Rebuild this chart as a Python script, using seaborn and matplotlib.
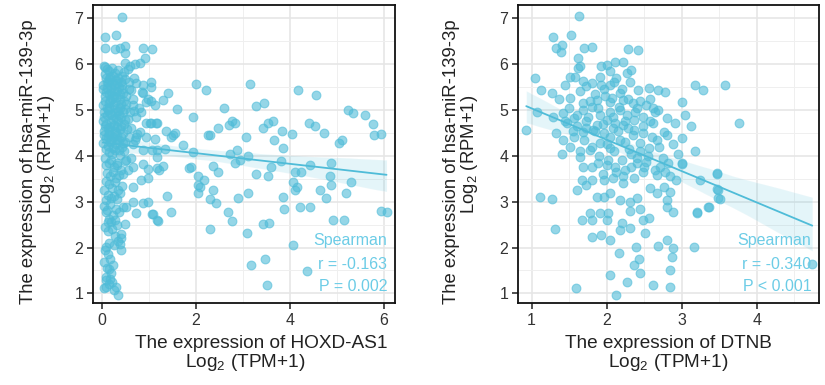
import matplotlib
matplotlib.use("Agg")
import matplotlib.pyplot as plt
import seaborn as sns
import numpy as np
import pandas as pd
from matplotlib.ticker import MultipleLocator

# ---------------- data: panel 1 (HOXD-AS1) ----------------
hoxd_x = [
    # sparse points
    1.99, 2.22, 3.14, 4.16, 4.56, 2.59, 3.27, 3.45, 5.23, 5.33, 5.60, 5.77, 5.78, 5.93,
    1.94, 2.47, 2.26, 2.30, 2.70, 2.76, 2.82, 3.43, 3.54, 3.63, 3.65, 3.82, 4.04, 4.40,
    4.52, 4.72, 5.03, 5.11, 3.07, 3.84, 2.72, 2.88, 3.11, 2.93, 2.82, 3.60, 3.80, 1.94,
    2.36, 2.47, 1.85, 1.90, 2.04, 2.16, 2.04, 2.08, 3.27, 3.54, 4.10, 4.24, 4.42, 4.88,
    4.84, 4.86, 4.06, 4.10, 4.15, 4.63, 5.29, 5.18, 4.77, 3.84, 3.11, 2.89, 2.36, 2.29,
    2.43, 2.04, 3.87, 4.21, 4.42, 5.94, 6.05, 2.68, 2.77, 3.43, 3.55, 4.91, 5.14, 2.29,
    3.09, 4.06, 3.16, 3.46, 4.35, 3.50,
    1.29, 1.41, 1.59, 1.16, 1.02, 1.36, 1.51, 1.46, 1.55, 1.72, 1.34, 1.16, 1.18, 1.30,
    1.22, 1.38, 1.46, 1.06, 1.20,
    # near-zero column, upper part
    0.43, 0.06, 0.29, 0.06, 0.27, 0.38, 0.48, 0.50, 0.87, 1.07, 0.91, 0.80, 0.70, 0.06,
    0.73, 0.87, 1.05, 1.05, 0.62, 0.87, 0.98, 1.05, 0.94, 1.12, 0.66, 0.69, 0.94, 1.04,
    1.15, 0.80, 0.73, 0.94, 1.12, 0.87, 1.07,
    0.09, 0.32, 0.52, 0.66, 0.87, 0.98, 1.16, 0.84, 0.98, 0.66, 0.66, 0.87, 0.98, 0.09,
    0.52, 0.73, 1.09, 1.16, 0.09, 0.13, 0.48, 0.40, 0.09, 0.41, 0.16, 0.09, 0.17, 0.09,
    0.30, 0.34,
    # dense column
    0.05, 0.10, 0.15, 0.22, 0.28, 0.35, 0.42, 0.08, 0.18, 0.30, 0.40, 0.48, 0.12, 0.25,
    0.55, 0.60, 0.50,
    0.03, 0.09, 0.14, 0.20, 0.26, 0.33, 0.38, 0.45, 0.52, 0.06, 0.16, 0.24, 0.31, 0.40,
    0.48, 0.11, 0.02, 0.21, 0.36, 0.58,
    0.04, 0.10, 0.17, 0.23, 0.29, 0.34, 0.41, 0.47, 0.07, 0.13, 0.19, 0.27, 0.32, 0.39,
    0.02, 0.44, 0.55, 0.15,
    0.05, 0.12, 0.18, 0.24, 0.30, 0.36, 0.43, 0.50, 0.58, 0.65, 0.08, 0.16, 0.22, 0.28,
    0.38, 0.46, 0.70, 0.03,
    0.06, 0.14, 0.20, 0.26, 0.33, 0.40, 0.48, 0.10, 0.18, 0.24, 0.30, 0.37, 0.45, 0.55,
    0.62,
    0.08, 0.15, 0.22, 0.28, 0.35, 0.42, 0.12, 0.19, 0.25, 0.32, 0.05, 0.38,
    0.04, 0.11, 0.17, 0.23, 0.29, 0.36, 0.44, 0.14, 0.20, 0.27, 0.33,
    0.06, 0.13, 0.21, 0.28, 0.35, 0.40, 0.16, 0.25, 0.38,
    0.07, 0.12, 0.18, 0.24, 0.10, 0.19, 0.05,
    0.08, 0.14, 0.22, 0.26, 0.04,
    # extra dense upper column
    0.03, 0.07, 0.11, 0.15, 0.19, 0.23, 0.27, 0.31, 0.35, 0.39, 0.43, 0.47,
    0.05, 0.09, 0.13, 0.17, 0.21, 0.25, 0.29, 0.33, 0.37, 0.41, 0.45, 0.49,
    0.04, 0.08, 0.12, 0.16, 0.20, 0.24, 0.28, 0.32, 0.36, 0.40, 0.44, 0.53,
    0.06, 0.10, 0.14, 0.18, 0.22, 0.26, 0.30, 0.34, 0.38, 0.42, 0.46, 0.51,
    0.60, 0.65, 0.72, 0.78, 0.62, 0.75, 0.82, 0.58, 0.68, 0.85,
]
hoxd_y = [
    5.56, 5.44, 5.56, 5.44, 5.33, 5.05, 5.09, 5.15, 5.00, 4.94, 4.88, 4.69, 4.45, 4.48,
    4.85, 4.61, 4.45, 4.45, 4.67, 4.75, 4.72, 4.60, 4.72, 4.76, 4.35, 4.54, 4.48, 4.72,
    4.64, 4.49, 4.27, 4.35, 4.42, 4.16, 4.05, 4.13, 4.00, 3.91, 3.84, 3.76, 3.89, 4.09,
    3.78, 3.65, 3.73, 3.76, 3.56, 3.47, 3.36, 3.31, 3.60, 3.55, 3.65, 3.65, 3.80, 3.84,
    3.55, 3.36, 3.44, 3.25, 3.31, 3.25, 3.44, 3.20, 3.07, 3.11, 3.20, 3.07, 3.25, 3.05,
    2.98, 3.18, 2.83, 2.89, 2.88, 2.80, 2.78, 2.78, 2.58, 2.51, 2.54, 2.60, 2.60, 2.40,
    2.32, 2.05, 1.62, 1.76, 1.49, 1.18,
    5.22, 5.37, 5.03, 4.71, 4.72, 4.55, 4.45, 4.40, 4.49, 4.23, 4.14, 4.12, 3.98, 3.78,
    3.69, 3.13, 2.78, 2.73, 2.58,
    7.03, 6.60, 6.64, 6.36, 6.34, 6.36, 6.40, 6.24, 6.36, 6.32, 6.13, 6.02, 6.00, 5.94,
    5.58, 5.55, 5.62, 5.50, 5.43, 5.36, 5.25, 5.20, 5.18, 5.11, 5.11, 4.97, 4.71, 4.71,
    4.71, 4.52, 4.42, 4.40, 4.37, 4.13, 4.13,
    3.80, 3.85, 3.91, 3.76, 3.83, 3.72, 3.73, 3.48, 3.52, 3.32, 3.00, 2.97, 2.99, 3.03,
    2.89, 2.76, 2.74, 2.60, 2.78, 2.56, 2.52, 2.30, 2.01, 1.94, 1.54, 1.36, 1.31, 1.14,
    1.14, 0.96,
    5.95, 5.90, 5.85, 5.92, 5.80, 5.88, 5.75, 5.70, 5.72, 5.65, 5.60, 5.68, 5.58, 5.55,
    5.90, 5.95, 6.02,
    5.45, 5.40, 5.35, 5.48, 5.30, 5.42, 5.25, 5.38, 5.30, 5.20, 5.15, 5.10, 5.05, 5.12,
    5.02, 5.05, 5.10, 5.25, 5.50, 5.45,
    4.95, 4.88, 4.92, 4.80, 4.95, 4.75, 4.85, 4.70, 4.65, 4.60, 4.72, 4.55, 4.62, 4.58,
    4.75, 4.95, 4.80, 4.52,
    4.45, 4.40, 4.30, 4.42, 4.25, 4.35, 4.20, 4.30, 4.40, 4.25, 4.15, 4.08, 4.05, 4.12,
    4.02, 4.10, 4.35, 4.28,
    3.95, 3.85, 3.90, 3.75, 3.80, 3.70, 3.88, 3.62, 3.55, 3.65, 3.52, 3.58, 3.60, 3.70,
    3.95,
    3.45, 3.38, 3.30, 3.42, 3.25, 3.35, 3.15, 3.08, 3.12, 3.05, 3.25, 3.18,
    2.90, 2.82, 2.95, 2.70, 2.85, 2.78, 2.88, 2.62, 2.55, 2.60, 2.50,
    2.45, 2.35, 2.40, 2.25, 2.15, 2.20, 2.10, 2.05, 2.08,
    1.95, 1.85, 1.75, 1.62, 1.55, 1.45, 1.68,
    1.30, 1.20, 1.25, 1.08, 1.12,
    5.55, 5.30, 5.62, 5.05, 5.40, 5.75, 5.18, 5.58, 4.98, 5.35, 5.55, 5.20,
    4.85, 4.70, 5.00, 4.62, 4.90, 4.68, 4.82, 4.45, 4.88, 4.65, 4.50, 4.78,
    4.55, 4.38, 4.22, 4.48, 4.32, 4.18, 4.50, 4.35, 4.12, 4.42, 4.28, 4.58,
    5.78, 5.48, 5.68, 5.22, 5.62, 5.42, 5.28, 5.70, 5.05, 5.45, 5.82, 5.12,
    4.95, 5.25, 4.85, 5.05, 4.60, 4.48, 4.95, 5.62, 5.70, 5.40,
]

# ---------------- data: panel 2 (DTNB) ----------------
dtnb_x = [
    1.63, 1.29, 1.52, 1.32, 1.40, 1.39, 1.70, 1.80, 2.28, 2.42, 1.62, 1.04, 1.13, 1.27,
    1.36, 1.45, 1.51, 1.58, 1.62, 1.65, 1.93, 2.00, 2.11, 2.22, 2.33, 2.04, 2.13, 2.27,
    2.31, 2.42, 2.57, 2.69, 2.78, 3.18, 3.29, 3.58, 3.01, 3.04, 3.13, 3.18, 3.76, 2.91,
    2.80, 2.69, 2.64, 3.00, 3.00, 2.93, 3.24, 3.20, 3.36, 3.47, 3.49, 3.51, 3.16, 4.74,
    0.93, 1.07, 1.11, 1.27, 1.31, 1.59, 2.13, 2.04, 2.27, 2.36, 2.44, 2.62, 2.84, 2.84,
    2.17, 2.39, 2.43, 2.69, 2.80, 2.89, 2.87, 1.80, 1.93, 2.04, 2.31, 2.51, 2.18, 2.20,
    1.67, 1.78, 1.80, 1.91, 2.00, 2.02, 2.31, 2.44, 2.49, 2.56, 2.80, 2.89, 2.80,
    1.61, 1.73, 1.87, 1.96, 2.04, 2.18, 2.31, 2.40, 2.58, 2.67, 2.76, 2.84,
    1.67, 1.80, 1.96, 2.09, 2.22, 2.36, 2.49, 2.67, 2.78,
    1.69, 1.80, 1.89, 2.00, 2.11, 2.24, 2.40, 2.53, 2.71, 2.82,
    1.40, 1.51, 1.64, 1.78, 1.91, 2.04, 2.18, 2.33, 2.44, 2.56, 2.67, 2.80,
    1.33, 1.42, 1.56, 1.69, 1.82, 1.96, 2.09, 2.22, 2.36, 2.49, 2.62, 2.76,
    1.29, 1.42, 1.56, 1.69, 1.80, 1.91, 2.04, 2.16, 2.27, 2.40, 2.53,
    1.47, 1.60, 1.73, 1.87, 2.00, 2.11, 2.24, 2.36, 2.49,
    1.51, 1.64, 1.73, 1.84, 1.96, 2.07, 2.18, 2.29, 2.44, 2.58,
    1.69, 1.80, 1.91, 2.04, 1.69, 1.87, 2.04, 2.22,
    3.00, 3.47, 3.47, 3.49, 3.35, 3.21,
    # extra dense centre
    1.75, 1.85, 1.95, 2.05, 2.15, 2.25, 2.35, 2.45, 2.55, 1.70, 1.80, 1.90, 2.00, 2.10,
    2.20, 2.30, 2.40, 2.50, 1.78, 1.88, 1.98, 2.08, 2.18, 2.28, 2.38, 2.48, 1.60, 1.55,
    1.65, 1.45, 1.50, 2.60, 2.70, 2.75, 2.65, 2.12, 2.22, 2.32, 1.95, 2.02, 1.92, 2.10,
    2.20, 2.35, 1.72, 2.58, 2.62, 2.88, 2.95, 2.85,
]
dtnb_y = [
    7.04, 6.59, 6.64, 6.35, 6.42, 6.26, 6.35, 6.38, 6.32, 6.31, 6.13, 5.69, 5.44, 5.36,
    5.25, 5.55, 5.73, 5.73, 5.91, 5.95, 5.95, 5.98, 6.04, 6.05, 5.87, 5.84, 5.69, 5.80,
    5.62, 5.44, 5.47, 5.44, 5.40, 5.55, 5.44, 5.55, 5.18, 4.89, 4.65, 4.11, 4.72, 4.71,
    4.82, 5.00, 4.96, 4.38, 3.85, 3.47, 3.47, 2.76, 2.89, 3.60, 3.25, 3.05, 2.02, 1.63,
    4.56, 4.96, 3.11, 3.05, 2.40, 1.11, 0.96, 1.40, 1.25, 1.62, 1.44, 1.18, 1.13, 1.51,
    1.89, 2.02, 1.76, 2.04, 2.16, 1.98, 1.80, 2.22, 2.27, 2.16, 2.43, 2.31, 2.38, 2.53,
    2.60, 2.75, 2.60, 2.75, 2.60, 2.75, 2.80, 2.85, 2.60, 2.64, 2.89, 2.78, 3.04,
    3.25, 3.36, 3.11, 3.11, 3.18, 3.04, 3.00, 3.07, 3.29, 3.18, 3.33, 3.22,
    3.47, 3.47, 3.47, 3.51, 3.40, 3.51, 3.65, 3.58, 3.65,
    3.76, 3.76, 3.84, 3.80, 3.76, 3.69, 3.84, 3.87, 3.76, 3.84,
    4.05, 4.20, 3.98, 4.13, 4.27, 4.16, 4.35, 4.05, 4.27, 4.16, 4.35, 4.45,
    4.49, 4.35, 4.42, 4.53, 4.56, 4.49, 4.60, 4.67, 4.56, 4.64, 4.71, 4.53,
    4.85, 4.93, 4.82, 5.00, 5.07, 4.89, 4.96, 5.07, 4.89, 5.04, 5.11,
    4.71, 4.64, 4.75, 4.67, 4.78, 4.71, 4.75, 4.78, 4.85,
    5.27, 5.42, 5.53, 5.35, 5.45, 5.27, 5.38, 5.24, 5.20, 5.24,
    5.64, 5.58, 5.73, 5.55, 5.15, 5.22, 5.18, 5.22,
    3.83, 3.62, 3.27, 3.08, 2.89, 2.78,
    4.85, 4.55, 4.70, 4.40, 4.55, 4.30, 4.45, 4.10, 4.00, 4.35, 4.20, 4.00, 4.25, 4.10,
    3.90, 4.15, 3.95, 3.75, 5.20, 5.05, 5.30, 4.85, 5.00, 4.60, 4.95, 4.50, 4.90, 4.55,
    4.10, 4.75, 5.05, 4.40, 4.20, 3.95, 3.70, 3.65, 3.55, 3.75, 3.60, 3.90, 5.55, 5.60,
    5.45, 5.15, 4.60, 4.75, 5.05, 4.25, 4.05, 3.55,
]

x_line1 = ["The expression of HOXD-AS1", "The expression of DTNB"]
x_line2 = "Log$_2$ (TPM+1)"
y_line1 = "The expression of hsa-miR-139-3p"
y_line2 = "Log$_2$ (RPM+1)"
stat_texts = [["Spearman", "r = -0.163", "P = 0.002"],
              ["Spearman", "r = -0.340", "P < 0.001"]]

df1 = pd.DataFrame({"x": hoxd_x, "y": hoxd_y})
df2 = pd.DataFrame({"x": dtnb_x, "y": dtnb_y})

sns.set_style("white")
plt.rcParams["font.family"] = ["Liberation Sans", "DejaVu Sans"]
plt.rcParams["mathtext.fontset"] = "custom"
plt.rcParams["mathtext.rm"] = "Liberation Sans"

pt_color = "#4FBCD8"
txt_color = "#6CCCE6"
lab_color = "#222222"

W, H = 825, 385
fig = plt.figure(figsize=(W / 100, H / 100), dpi=100)
ax1 = fig.add_axes([93/W, 1-303/H, 302/W, 298/H])
ax2 = fig.add_axes([518/W, 1-303/H, 301/W, 298/H])

configs = [
    (ax1, df1, (-0.19, 6.23), [0, 2, 4, 6], 1.0),
    (ax2, df2, (0.82, 4.83), [1, 2, 3, 4], 0.5),
]
# label positions in pixel coordinates (x-label line centres / baselines, y-label baselines)
xlab_pos = [((261, 348), (245, 367)), ((668, 348), (668, 367))]
ylab_pos = [((33, 162), (51, 154)), ((456, 162), (474, 154))]
lab_fs = 13.3

for i, (ax, df, xlim, xticks, xminor) in enumerate(configs):
    sns.regplot(data=df, x="x", y="y", ax=ax, ci=95, n_boot=500, seed=1,
                scatter_kws=dict(s=40, alpha=0.6, color=pt_color, edgecolor=pt_color,
                                 linewidths=0.8, zorder=3),
                line_kws=dict(color=pt_color, lw=1.3, zorder=4),
                color=pt_color)
    ax.set_xlim(*xlim)
    ax.set_ylim(0.79, 7.29)
    ax.set_xticks(xticks)
    ax.xaxis.set_minor_locator(MultipleLocator(xminor))
    ax.set_yticks([1, 2, 3, 4, 5, 6, 7])
    ax.yaxis.set_minor_locator(MultipleLocator(0.5))
    ax.grid(True, which="major", color="#E6E6E6", lw=1.2, zorder=0)
    ax.grid(True, which="minor", color="#EFEFEF", lw=0.7, zorder=0)
    ax.set_axisbelow(True)
    for sp in ax.spines.values():
        sp.set_visible(True)
        sp.set_color("#111111")
        sp.set_linewidth(1.3)
    ax.tick_params(axis="both", which="major", direction="out", length=4, width=1.1,
                   color="#222222", labelsize=11.5, labelcolor="#333333", pad=3,
                   bottom=True, left=True)
    ax.tick_params(axis="both", which="minor", length=0)
    ax.set_xlabel("")
    ax.set_ylabel("")
    (x1, y1), (x2, y2) = xlab_pos[i]
    fig.text(x1 / W, 1 - y1 / H, x_line1[i], ha="center", va="baseline",
             fontsize=lab_fs + 0.4, color=lab_color)
    fig.text(x2 / W, 1 - y2 / H, x_line2, ha="center", va="baseline",
             fontsize=lab_fs + 0.4, color=lab_color)
    (a1, b1), (a2, b2) = ylab_pos[i]
    fig.text(a1 / W, 1 - b1 / H, y_line1, ha="center", va="baseline", rotation=90,
             rotation_mode="anchor", fontsize=lab_fs, color=lab_color)
    fig.text(a2 / W, 1 - b2 / H, y_line2, ha="center", va="baseline", rotation=90,
             rotation_mode="anchor", fontsize=lab_fs, color=lab_color)
    for txt, yy in zip(stat_texts[i], [0.211, 0.128, 0.054]):
        ax.text(0.975, yy, txt, transform=ax.transAxes, ha="right", va="center",
                fontsize=11.5, color=txt_color, zorder=5)

fig.savefig("out.png", dpi=100)
